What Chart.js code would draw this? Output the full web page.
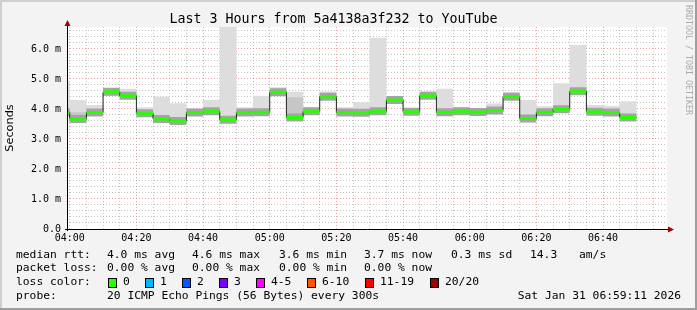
<!DOCTYPE html>
<html>
<head>
<meta charset="utf-8">
<script src="https://cdn.jsdelivr.net/npm/chart.js@4.4.1/dist/chart.umd.min.js"></script>
<style>
  html, body { margin: 0; padding: 0; background: #f3f3f3; }
  #wrap { width: 697px; height: 310px; position: relative; }
</style>
</head>
<body>
<div id="wrap"><canvas id="chart" width="697" height="310"></canvas></div>
<script>
// 5 minute slots (start time of each), first one is cut by the left edge
const slotTimes = ['03:55', '04:00', '04:05', '04:10', '04:15', '04:20', '04:25', '04:30', '04:35', '04:40',
    '04:45', '04:50', '04:55', '05:00', '05:05', '05:10', '05:15', '05:20', '05:25', '05:30',
    '05:35', '05:40', '05:45', '05:50', '05:55', '06:00', '06:05', '06:10', '06:15', '06:20',
    '06:25', '06:30', '06:35', '06:40', '06:45'];
const slotMinutes = 5;

// values in ms
const medianRtt = [3.89, 3.67, 3.88, 4.57, 4.44, 3.86, 3.67, 3.60, 3.88, 3.92,
    3.64, 3.88, 3.89, 4.56, 3.72, 3.92, 4.41, 3.88, 3.87, 3.92,
    4.30, 3.91, 4.44, 3.89, 3.92, 3.90, 3.95, 4.41, 3.68, 3.89,
    3.99, 4.59, 3.91, 3.88, 3.72];
const smokeMax = [4.89, 4.30, 4.13, 4.70, 4.67, 4.06, 4.41, 4.19, 3.97, 4.30,
    7.50, 4.06, 4.44, 4.72, 4.57, 4.06, 4.58, 4.06, 4.22, 6.37,
    4.39, 3.97, 4.58, 4.67, 4.06, 3.99, 4.18, 4.56, 4.30, 4.09,
    4.86, 6.14, 4.13, 4.10, 4.26];
const smokeMin = [3.80, 3.53, 3.80, 4.44, 4.33, 3.76, 3.58, 3.49, 3.82, 3.82,
    3.55, 3.80, 3.78, 4.44, 3.63, 3.82, 4.32, 3.80, 3.78, 3.82,
    4.22, 3.84, 4.36, 3.82, 3.82, 3.82, 3.85, 4.33, 3.60, 3.82,
    3.91, 4.50, 3.83, 3.80, 3.62];
const smokeMidHi = [4.00, 3.89, 3.95, 4.66, 4.55, 3.95, 3.80, 3.72, 3.93, 3.99,
    3.76, 3.95, 3.97, 4.65, 4.39, 3.98, 4.50, 3.95, 3.96, 3.99,
    4.37, 3.95, 4.52, 3.97, 3.98, 3.96, 4.02, 4.50, 3.78, 3.97,
    4.05, 4.66, 3.98, 3.96, 3.82];
const smokeMidLo = [3.83, 3.56, 3.82, 4.47, 4.36, 3.79, 3.60, 3.52, 3.84, 3.85,
    3.58, 3.82, 3.81, 4.47, 3.66, 3.85, 4.35, 3.83, 3.81, 3.85,
    4.25, 3.86, 4.38, 3.85, 3.85, 3.85, 3.88, 4.36, 3.63, 3.85,
    3.94, 4.53, 3.86, 3.83, 3.65];

const yLabels = ['0.0', '1.0 m', '2.0 m', '3.0 m', '4.0 m', '5.0 m', '6.0 m'];
const xLabels = ['04:00', '04:20', '04:40', '05:00', '05:20', '05:40', '06:00', '06:20', '06:40'];

const lossColors = ['#26ff00', '#00b8ff', '#0059ff', '#7e00ff', '#ff00ff', '#ff5500', '#ff0000', '#a10000'];
const lossNames = ['0', '1', '2', '3', '4-5', '6-10', '11-19', '20/20'];

// minutes since 04:00
function toMin(t) {
    const p = t.split(':');
    return +p[0] * 60 + +p[1] - 240;
}
const starts = slotTimes.map(toMin);

// stepped series: one point per slot start plus the end of the last slot
function stepData(vals) {
    const pts = vals.map((v, i) => ({ x: starts[i], y: v }));
    pts.push({ x: starts[starts.length - 1] + slotMinutes, y: vals[vals.length - 1] });
    return pts;
}
// flat pieces only, no vertical joins
function flatData(vals) {
    const pts = [];
    vals.forEach((v, i) => {
        pts.push({ x: starts[i], y: v });
        pts.push({ x: starts[i] + slotMinutes, y: v });
        pts.push({ x: starts[i] + slotMinutes, y: null });
    });
    return pts;
}

const MONO = '"DejaVu Sans Mono", "Liberation Mono", monospace';
const DOTS = [1, 2];

const deco = {
    id: 'deco',
    beforeDraw(chart) {
        const ctx = chart.ctx, a = chart.chartArea;
        ctx.save();
        ctx.fillStyle = '#f3f3f3';
        ctx.fillRect(0, 0, chart.width, chart.height);
        ctx.fillStyle = '#ffffff';
        ctx.fillRect(a.left, a.top, a.right - a.left, a.bottom - a.top);
        ctx.restore();
    },
    afterDraw(chart) {
        const ctx = chart.ctx, a = chart.chartArea;
        ctx.save();
        // axes, drawn solid over the dotted grid
        ctx.strokeStyle = '#000';
        ctx.lineWidth = 1;
        ctx.setLineDash([]);
        const ax = Math.round(a.left) + 0.5, by = Math.round(a.bottom) + 0.5;
        ctx.beginPath();
        ctx.moveTo(a.left - 2, by);
        ctx.lineTo(a.right + 3, by);
        ctx.moveTo(ax, a.bottom + 2);
        ctx.lineTo(ax, a.top - 4);
        ctx.stroke();
        ctx.fillStyle = '#a00000';
        ctx.beginPath();
        ctx.moveTo(ax - 3, a.top - 1); ctx.lineTo(ax + 3, a.top - 1); ctx.lineTo(ax, a.top - 7); ctx.closePath();
        ctx.fill();
        ctx.beginPath();
        ctx.moveTo(a.right + 1, by - 3); ctx.lineTo(a.right + 1, by + 3); ctx.lineTo(a.right + 7, by); ctx.closePath();
        ctx.fill();

        // legend block
        ctx.fillStyle = '#000';
        ctx.font = '11.3px ' + MONO;
        ctx.textBaseline = 'middle';
        ctx.textAlign = 'left';
        const rows = [
            [[16, 'median rtt:'], [107, '4.0 ms avg'], [192, '4.6 ms max'], [279, '3.6 ms min'], [364, '3.7 ms now'], [451, '0.3 ms sd'], [530, '14.3'], [579, 'am/s']],
            [[16, 'packet loss:'], [107, '0.00 % avg'], [192, '0.00 % max'], [279, '0.00 % min'], [364, '0.00 % now']],
            [[16, 'loss color:']],
            [[16, 'probe:'], [107, '20 ICMP Echo Pings (56 Bytes) every 300s']]
        ];
        const rowY = [255, 268.5, 282.5, 296];
        rows.forEach((r, i) => r.forEach(it => ctx.fillText(it[1], it[0], rowY[i])));
        ctx.textAlign = 'right';
        ctx.fillText('Sat Jan 31 06:59:11 2026', 681, 296);
        ctx.textAlign = 'left';
        const boxX = [108, 145, 182, 219, 256, 307, 365, 430];
        lossColors.forEach((c, i) => {
            ctx.fillStyle = c;
            ctx.fillRect(boxX[i], 278, 8, 9);
            ctx.strokeStyle = '#000';
            ctx.strokeRect(boxX[i] + 0.5, 278.5, 8, 9);
            ctx.fillStyle = '#000';
            ctx.fillText(lossNames[i], boxX[i] + 15, 282.5);
        });

        // side watermark
        ctx.save();
        ctx.translate(688, 5);
        ctx.rotate(Math.PI / 2);
        ctx.fillStyle = '#ababab';
        ctx.font = '8.3px ' + MONO;
        ctx.textBaseline = 'middle';
        ctx.fillText('RRDTOOL / TOBI OETIKER', 0, 0);
        ctx.restore();

        // frame
        ctx.fillStyle = '#cfcfcf';
        ctx.fillRect(0, 0, chart.width, 2);
        ctx.fillRect(0, 0, 2, chart.height);
        ctx.fillStyle = '#9e9e9e';
        ctx.fillRect(chart.width - 2, 0, 2, chart.height);
        ctx.fillRect(0, chart.height - 2, chart.width, 2);
        ctx.restore();
    }
};

// chart.js 'before' = hold the previous value, then jump at the next x
const band = (data, color, fill) => ({
    data: data, stepped: 'before', borderWidth: 0, pointRadius: 0,
    backgroundColor: color, fill: fill
});

// first dataset is painted last (on top)
new Chart(document.getElementById('chart'), {
    type: 'line',
    data: {
        datasets: [
            { data: flatData(medianRtt), borderColor: lossColors[0], borderWidth: 3, pointRadius: 0, spanGaps: false, fill: false },
            { data: stepData(medianRtt), stepped: 'before', borderColor: '#202020', borderWidth: 1, pointRadius: 0, fill: false },
            { data: flatData(medianRtt), borderColor: '#a4a4a4', borderWidth: 8, pointRadius: 0, spanGaps: false, fill: false },
            band(stepData(smokeMidLo), 'rgba(0,0,0,0)', false),
            band(stepData(smokeMidHi), '#c6c6c6', '-1'),
            band(stepData(smokeMin), 'rgba(0,0,0,0)', false),
            band(stepData(smokeMax), '#dddddd', '-1')
        ]
    },
    options: {
        responsive: false,
        animation: false,
        events: [],
        layout: { padding: { top: 0, right: 30, left: 0, bottom: 0 } },
        plugins: {
            legend: { display: false },
            tooltip: { enabled: false },
            title: {
                display: true,
                text: 'Last 3 Hours from 5a4138a3f232 to YouTube',
                color: '#000',
                font: { family: MONO, size: 13.3, weight: 'normal', lineHeight: 1.05 },
                padding: { top: 13, bottom: 0 }
            }
        },
        scales: {
            x: {
                type: 'linear',
                min: -49 / 60,
                max: 179 + 11 / 60,
                afterFit: s => { s.height = 81; },
                afterBuildTicks: s => {
                    const t = [];
                    for (let m = 0; m <= 175; m += 5) t.push({ value: m });
                    s.ticks = t;
                },
                ticks: {
                    autoSkip: false, maxRotation: 0, padding: 3, color: '#000',
                    font: { family: MONO, size: 10 },
                    callback: v => (v % 20 === 0 ? xLabels[v / 20] : '')
                },
                grid: {
                    drawTicks: false,
                    color: c => (c.tick && c.tick.value % 20 === 0 ? 'rgba(235,110,110,0.65)' : 'rgba(150,150,150,0.55)')
                },
                border: { display: false, dash: DOTS }
            },
            y: {
                min: 0,
                max: 6.733,
                afterFit: s => { s.width = 67; },
                afterBuildTicks: s => {
                    const t = [];
                    for (let k = 0; k <= 33; k++) t.push({ value: k / 5 });
                    s.ticks = t;
                },
                ticks: {
                    autoSkip: false, padding: 6, color: '#000',
                    font: { family: MONO, size: 10 },
                    callback: v => {
                        const k = Math.round(v * 5);
                        return k % 5 === 0 ? yLabels[k / 5] : '';
                    }
                },
                grid: {
                    drawTicks: false,
                    color: c => (c.tick && Math.round(c.tick.value * 5) % 5 === 0 ? 'rgba(235,110,110,0.65)' : 'rgba(150,150,150,0.55)')
                },
                border: { display: false, dash: DOTS },
                title: {
                    display: true, text: 'Seconds', color: '#000',
                    font: { family: '"DejaVu Sans", sans-serif', size: 11.3 },
                    padding: { top: 3, bottom: 0 }
                }
            }
        }
    },
    plugins: [deco]
});
</script>
</body>
</html>
